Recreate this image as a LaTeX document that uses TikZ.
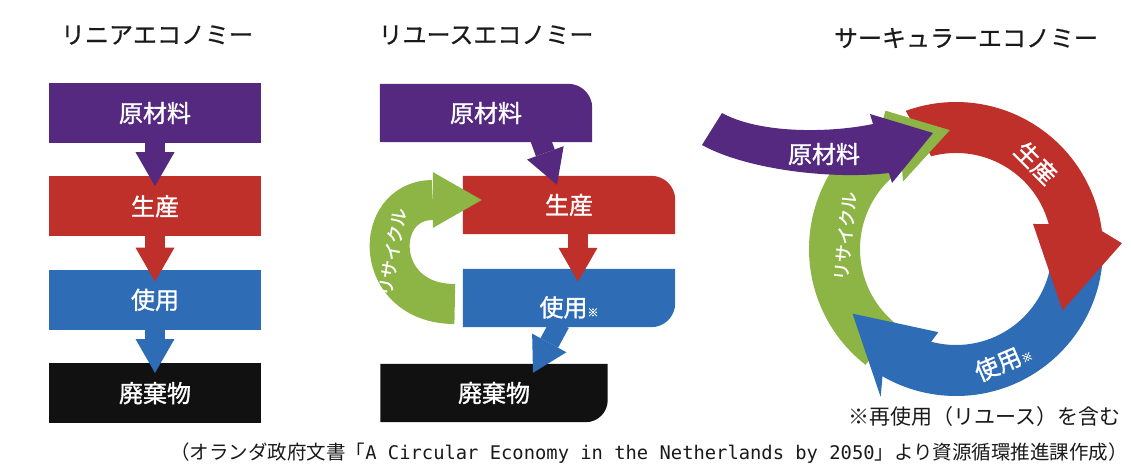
\documentclass[tikz,border=0pt]{standalone}
\usepackage{fontspec}
\setmainfont{Noto Sans CJK JP}
\newfontfamily\labelfont{Noto Sans CJK JP}[FakeBold=1.2]
\newfontfamily\headfont{Noto Sans CJK JP}[FakeBold=0.6]
\newfontfamily\monolat{DejaVu Sans Mono}
\usepackage{tikz}
\usetikzlibrary{positioning, backgrounds, calc, arrows.meta}

\definecolor{rawpurple}{HTML}{55297F}
\definecolor{prodred}{HTML}{C0302B}
\definecolor{useblue}{HTML}{2E6CB5}
\definecolor{wasteblack}{HTML}{111111}
\definecolor{recyclegreen}{HTML}{8CB546}
\definecolor{inkgray}{HTML}{1A1A1A}

\newcommand{\smallkome}{{\fontsize{11}{11}\selectfont ※}}

\tikzset{
	boxlabel/.style={font=\labelfont\fontsize{24}{24}\selectfont, text=white}
}
\tikzset{
	flatbox/.style={boxlabel, minimum width=212pt, minimum height=60pt, inner sep=0pt}
}
\tikzset{
	reusebox/.style={boxlabel, minimum width=212pt, minimum height=58pt, inner sep=0pt}
}
\tikzset{
	titletext/.style={font=\headfont\fontsize{24}{24}\selectfont\color{inkgray}}
}
\tikzset{
	recyclelabel/.style={font=\labelfont\fontsize{18}{18}\selectfont, text=white}
}
\tikzset{
	blockarrow/.style={line width=20pt, -{Triangle[width=39pt,length=34pt,line width=0pt]}}
}

\begin{document}
\begin{tikzpicture}[x=1pt, y=1pt]
      \useasboundingbox (0,0) rectangle (1131,464);

      % titles
      \node[titletext] (linTitle) at (157,429) {リニアエコノミー};
      \node[titletext] (reuseTitle) at (486,429) {リユースエコノミー};
      \node[titletext] (circTitle) at (966,426) {サーキュラーエコノミー};

      % linear economy: straight column of boxes
      \node[flatbox, fill=rawpurple] (linRaw) at (155,351) {原材料};
      \node[flatbox, fill=prodred, below=33pt of linRaw] (linProd) {生産};
      \node[flatbox, fill=useblue, below=33pt of linProd] (linUse) {使用};
      \node[flatbox, fill=wasteblack, below=33pt of linUse] (linWaste) {廃棄物};
      \draw[blockarrow, rawpurple] ([yshift=1pt]linRaw.south) -- ([yshift=-10pt]linProd.north);
      \draw[blockarrow, prodred] ([yshift=1pt]linProd.south) -- ([yshift=-12pt]linUse.north);
      \draw[blockarrow, useblue] ([yshift=1pt]linUse.south) -- ([yshift=-10pt]linWaste.north);

      % reuse economy: boxes with one rounded corner
      \node[reusebox] (reRaw) at (486,351) {原材料};
      \node[reusebox] (reProd) at (569,259) {生産};
      \node[reusebox, text height=40pt, text depth=3pt] (reUse) at (569,166) {使用\smallkome};
      \node[reusebox, minimum width=227pt] (reWaste) at (494,71) {廃棄物};
      \begin{scope}[on background layer]
        \fill[rawpurple] (reRaw.south west) -- (reRaw.north west) -- ([xshift=-24pt]reRaw.north east)
          arc[start angle=90, end angle=0, radius=24pt] -- (reRaw.south east) -- cycle;
        \fill[prodred] (reProd.south west) -- (reProd.north west) -- ([xshift=-24pt]reProd.north east)
          arc[start angle=90, end angle=0, radius=24pt] -- (reProd.south east) -- cycle;
        \fill[useblue] (reUse.north west) -- (reUse.north east) -- ([yshift=24pt]reUse.south east)
          arc[start angle=0, end angle=-90, radius=24pt] -- (reUse.south west) -- cycle;
        \fill[wasteblack] (reWaste.north west) -- (reWaste.north east) -- ([yshift=22pt]reWaste.south east)
          arc[start angle=0, end angle=-90, radius=22pt] -- (reWaste.south west) -- cycle;
      \end{scope}
      \draw[blockarrow, rawpurple] ([xshift=54pt,yshift=4pt]reRaw.south) -- ([xshift=-12pt,yshift=-9pt]reProd.north);
      \draw[blockarrow, prodred] ([xshift=9pt,yshift=1pt]reProd.south) -- ([xshift=9pt,yshift=-13pt]reUse.north);
      \draw[blockarrow, useblue] ([xshift=-9pt,yshift=4pt]reUse.south) -- ([xshift=39pt,yshift=-9pt]reWaste.north);
      \draw[line width=40pt, recyclegreen, -{Triangle[width=56pt,length=49pt,line width=0pt]}]
        ([xshift=-8pt,yshift=-6pt]reUse.west) .. controls (372,160) and (372,264) .. ([xshift=19pt,yshift=5pt]reProd.west);
      \node[recyclelabel, rotate=80] (reRecycle) at (392,212) {リサイクル};

      % circular economy: ring of three curved arrows
      \coordinate (cc) at (956,215);
      \fill[recyclegreen] ($(cc)+(232:147pt)$) arc[start angle=232, end angle=120, radius=147pt]
        -- ($(cc)+(117:155pt)$) -- ($(cc)+(93:119pt)$) -- ($(cc)+(128:86pt)$) -- ($(cc)+(124:96pt)$)
        arc[start angle=124, end angle=232, radius=96pt] -- cycle;
      \fill[useblue] ($(cc)+(0:147pt)$) arc[start angle=0, end angle=-120, radius=147pt]
        -- ($(cc)+(-117:166pt)$) -- ($(cc)+(-148:122pt)$) -- ($(cc)+(-102:85pt)$) -- ($(cc)+(-105:96pt)$)
        arc[start angle=-105, end angle=0, radius=96pt] -- cycle;
      \fill[prodred] ($(cc)+(110:147pt)$) arc[start angle=110, end angle=7, radius=147pt]
        -- ($(cc)+(2:166pt)$) -- ($(cc)+(-30:123pt)$) -- ($(cc)+(18:81pt)$) -- ($(cc)+(15:96pt)$)
        arc[start angle=15, end angle=105, radius=96pt] -- cycle;
      % green head again, over the tail of the red arrow
      \fill[recyclegreen] ($(cc)+(120:147pt)$) -- ($(cc)+(117:155pt)$) -- ($(cc)+(93:119pt)$)
        -- ($(cc)+(128:86pt)$) -- ($(cc)+(124:96pt)$) -- cycle;
      % raw material arrow coming in from the left
      \fill[rawpurple] (722,351) .. controls (760,330) and (830,331) .. (873,340) -- (870,350) -- (933,331)
        -- (892,281) -- (889,291) .. controls (830,284) and (745,295) .. (702,319) -- cycle;
      \node[boxlabel] (cirRaw) at (824,310) {原材料};
      \node[boxlabel, rotate=-45] (cirProd) at (1036,301) {生産};
      \node[recyclelabel, rotate=84] (cirRecycle) at (845,228) {リサイクル};
      \node[boxlabel, rotate=23, inner sep=0pt] (cirUse) at (1003,102) {使用\smallkome};

      % notes
      \node[font=\fontsize{21}{21}\selectfont\color{inkgray}, anchor=east, inner sep=0pt] (kome) at (1121,47) {※再使用（リユース）を含む};
      \node[font=\fontsize{19.5}{20}\selectfont\color{inkgray}, anchor=east, inner sep=0pt] (source) at (1128,11)
        {（オランダ政府文書「{\monolat\fontsize{18.8}{20}\selectfont A Circular Economy in the Netherlands by 2050}」より資源循環推進課作成）};
    \end{tikzpicture}
\end{document}
